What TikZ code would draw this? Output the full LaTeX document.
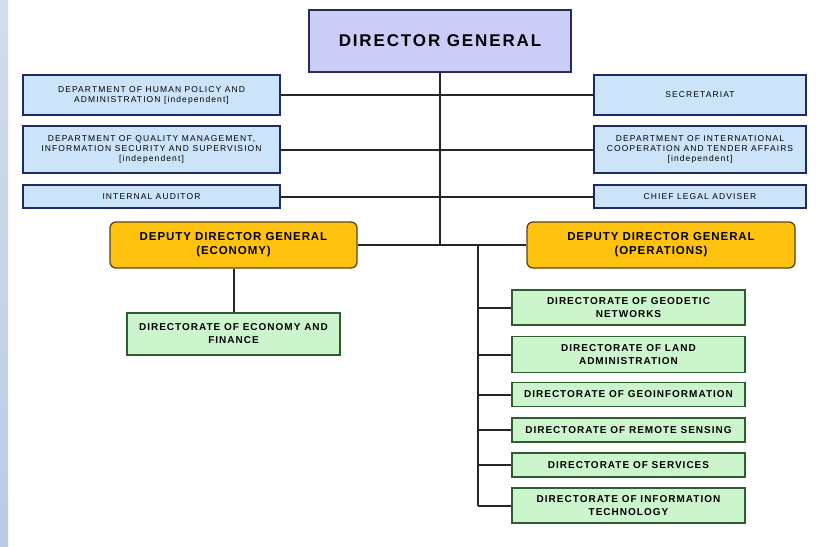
\documentclass[tikz,border=0pt]{standalone}
\usepackage{fontspec}
\setmainfont{Liberation Sans}
\newfontfamily\topfont[LetterSpace=11]{Liberation Sans}
\newfontfamily\deptfont[LetterSpace=13]{Liberation Sans}
\newfontfamily\depfont[LetterSpace=8]{Liberation Sans}
\newfontfamily\dirfont[LetterSpace=10]{Liberation Sans}
\usepackage{tikz}

\definecolor{dgfill}{HTML}{CCCCF8}
\definecolor{dgline}{HTML}{2B2B5E}
\definecolor{deptfill}{HTML}{CCE4FA}
\definecolor{deptline}{HTML}{1E2A66}
\definecolor{depfill}{HTML}{FFC20E}
\definecolor{depline}{HTML}{5A4510}
\definecolor{dirfill}{HTML}{CDF5CD}
\definecolor{dirline}{HTML}{2E5E2E}
\definecolor{stripA}{HTML}{D3DDEB}
\definecolor{stripB}{HTML}{B9CCE4}

\begin{document}
\begin{tikzpicture}[x=1pt, y=-1pt,
	topbox/.style={draw=dgline, line width=1.3pt, fill=dgfill, minimum width=262pt, minimum height=62pt, font=\topfont\fontsize{17}{19}\selectfont\bfseries},
	deptbox/.style={draw=deptline, line width=1.3pt, fill=deptfill, inner sep=1pt, align=center, font=\deptfont\fontsize{8.5}{10}\selectfont},
	depbox/.style={draw=depline, line width=1.3pt, fill=depfill, rounded corners=6pt, minimum height=46pt, align=center, font=\depfont\fontsize{11.5}{14}\selectfont\bfseries},
	dirbox/.style={draw=dirline, line width=1.3pt, fill=dirfill, inner sep=1pt, align=center, font=\dirfont\fontsize{10}{13}\selectfont\bfseries},
	link/.style={line width=2pt, black!85}]

	\useasboundingbox (0, 0) rectangle (819, 546);
	\shade [top color=stripA, bottom color=stripB] (0, 0) rectangle (8, 546);

	\node [topbox] (dg) at (440, 41) {DIRECTOR GENERAL};

	% left and right staff units
	\node [deptbox, minimum width=257pt, minimum height=40pt] (hp) at (151.5, 95) {DEPARTMENT OF HUMAN POLICY AND\\ADMINISTRATION [independent]};
	\node [deptbox, minimum width=257pt, minimum height=47pt] (qm) at (151.5, 149.5) {DEPARTMENT OF QUALITY MANAGEMENT,\\INFORMATION SECURITY AND SUPERVISION\\{}[independent]};
	\node [deptbox, minimum width=257pt, minimum height=23pt] (ia) at (151.5, 196.5) {INTERNAL AUDITOR};

	\node [deptbox, minimum width=212pt, minimum height=40pt] (sec) at (700, 95) {SECRETARIAT};
	\node [deptbox, minimum width=212pt, minimum height=47pt] (ic) at (700, 149.5) {DEPARTMENT OF INTERNATIONAL\\COOPERATION AND TENDER AFFAIRS\\{}[independent]};
	\node [deptbox, minimum width=212pt, minimum height=23pt] (cl) at (700, 196.5) {CHIEF LEGAL ADVISER};

	% deputies
	\node [depbox, minimum width=247pt] (eco) at (233.5, 245) {DEPUTY DIRECTOR GENERAL\\(ECONOMY)};
	\node [depbox, minimum width=268pt] (ops) at (661, 245) {DEPUTY DIRECTOR GENERAL\\(OPERATIONS)};

	\node [dirbox, minimum width=213pt, minimum height=42pt] (fin) at (233.5, 334) {DIRECTORATE OF ECONOMY AND\\FINANCE};

	\node [dirbox, minimum width=233pt, minimum height=35pt] (geo) at (628.5, 307.5) {DIRECTORATE OF GEODETIC\\NETWORKS};
	\node [dirbox, minimum width=233pt, minimum height=36pt] (land) at (628.5, 354.5) {DIRECTORATE OF LAND\\ADMINISTRATION};
	\node [dirbox, minimum width=233pt, minimum height=24pt] (gi) at (628.5, 394.5) {DIRECTORATE OF GEOINFORMATION};
	\node [dirbox, minimum width=233pt, minimum height=24pt] (rs) at (628.5, 430) {DIRECTORATE OF REMOTE SENSING};
	\node [dirbox, minimum width=233pt, minimum height=24pt] (srv) at (628.5, 465) {DIRECTORATE OF SERVICES};
	\node [dirbox, minimum width=233pt, minimum height=35pt] (it) at (628.5, 505.5) {DIRECTORATE OF INFORMATION\\TECHNOLOGY};

	% connectors
	\coordinate (trunk) at (dg.south |- eco.east);
	\coordinate (bus) at (478, 245);
	\draw [link] (dg.south) -- (trunk);
	\draw [link] (hp.east) -- (sec.west);
	\draw [link] (qm.east) -- (ic.west);
	\draw [link] (ia.east) -- (cl.west);
	\draw [link] (eco.east) -- (ops.west);
	\draw [link] (eco.south) -- (fin.north);
	\draw [link] (bus) -- (bus |- it.west);
	\foreach \d in {geo, land, gi, rs, srv, it} {
		\draw [link] (bus |- \d.west) -- (\d.west);
	}
\end{tikzpicture}
\end{document}
